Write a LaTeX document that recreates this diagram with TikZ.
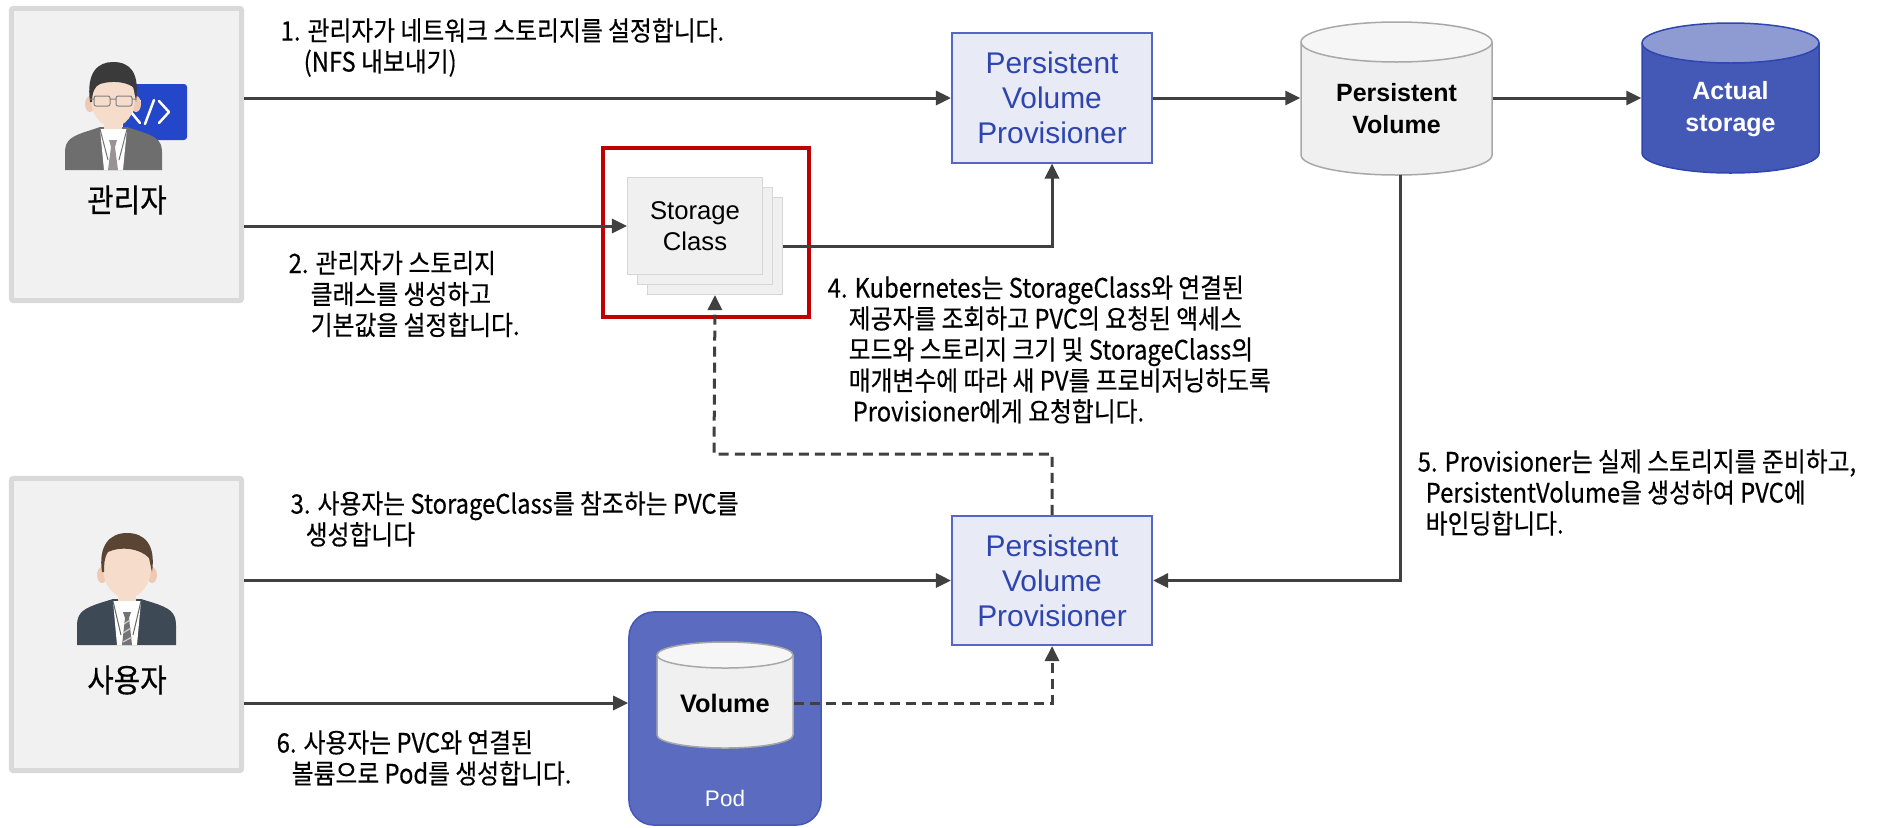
\documentclass[tikz,border=0pt]{standalone}
\usepackage{fontspec}
\setmainfont{Liberation Sans}
\newfontfamily\kr[FakeStretch=0.89,FakeBold=0.4]{Noto Sans CJK KR}
\usetikzlibrary{arrows.meta}

\definecolor{boxfill}{HTML}{F1F1F1}
\definecolor{boxline}{HTML}{D9D9D9}
\definecolor{arrowgray}{HTML}{404040}
\definecolor{pvpfill}{HTML}{E8EAF6}
\definecolor{pvpline}{HTML}{5566C4}
\definecolor{pvptext}{HTML}{2E45B0}
\definecolor{scred}{HTML}{C00000}
\definecolor{pagefill}{HTML}{F0F0F0}
\definecolor{pageline}{HTML}{D6D6D6}
\definecolor{pvbody}{HTML}{F0F0F0}
\definecolor{pvtop}{HTML}{F6F6F6}
\definecolor{pvline}{HTML}{A8A8A8}
\definecolor{asbody}{HTML}{4458B6}
\definecolor{astop}{HTML}{8E9AD2}
\definecolor{asline}{HTML}{2F45B0}
\definecolor{podfill}{HTML}{5A6BC0}
\definecolor{podline}{HTML}{4657B8}
\definecolor{skin}{HTML}{F6DCCB}
\definecolor{earskin}{HTML}{EFC9B3}
\definecolor{hairdark}{HTML}{3A3A3A}
\definecolor{hairbrown}{HTML}{5A4535}
\definecolor{suitgray}{HTML}{6E6E6E}
\definecolor{suitnavy}{HTML}{3D4A56}
\definecolor{tiegray}{HTML}{9A9396}
\definecolor{badgeblue}{HTML}{2446C8}

% cylinder: left, right, top, bottom, rim, body, lid, line
\newcommand{\drum}[8]{%
  \filldraw[fill=#6,draw=#8,line width=0.015cm] (#1,#3+#5) -- (#1,#4-#5)
    arc[start angle=180,end angle=0,x radius={(#2-#1)/2},y radius=#5] -- (#2,#3+#5);
  \filldraw[fill=#7,draw=#8,line width=0.015cm] ({(#1+#2)/2},#3+#5) ellipse [x radius={(#2-#1)/2},y radius=#5];
}

\begin{document}
\begin{tikzpicture}[x=0.01cm,y=-0.01cm,
  flow/.style={draw=arrowgray,line width=0.03cm,-{Triangle[length=0.15cm,width=0.14cm]}},
  dashflow/.style={flow,dash pattern=on 0.1cm off 0.06cm},
  actor/.style={draw=boxline,fill=boxfill,line width=0.05cm,rounded corners=0.02cm,minimum width=2.3cm,minimum height=2.92cm},
  who/.style={font=\kr\fontsize{9.2}{11}\selectfont},
  prov/.style={draw=pvpline,fill=pvpfill,line width=0.02cm,minimum width=2cm,minimum height=1.29cm,
    text=pvptext,align=center,font=\fontsize{8.5}{10}\selectfont},
  page/.style={draw=pageline,fill=pagefill,line width=0.01cm,minimum width=1.35cm,minimum height=0.97cm},
  drumtext/.style={align=center,inner sep=0,font=\bfseries\fontsize{7.1}{9.1}\selectfont},
  note/.style={font=\kr\fontsize{7.6}{8.8}\selectfont,align=left,anchor=west,inner sep=0}]
\useasboundingbox (0,0) rectangle (1883,827);

% actors
\node[actor] (admin) at (126.5,154.5) {};
\node[actor] (user) at (126.5,624.5) {};

% admin figure
\fill[badgeblue,rounded corners=0.03cm] (123,84) rectangle (187,140);
\draw[white,line width=0.025cm,line cap=round,line join=round]
  (140,101) -- (131,112) -- (140,123) (154,100) -- (145,124) (159,101) -- (169,112) -- (159,123);
\fill[suitgray] (65,170) -- (65,152) .. controls (65,140) and (72,136) .. (88,131) -- (100,127)
  -- (127,127) -- (139,131) .. controls (155,136) and (162,140) .. (162,152) -- (162,170) -- cycle;
\fill[skin] (104,112) rectangle (122,133);
\fill[white] (100,129) -- (127,129) -- (123,170) -- (104,170) -- cycle;
\draw[black!55,line width=0.01cm] (100,129) -- (108,160) (127,129) -- (119,160);
\fill[tiegray] (109,140) -- (117,140) -- (115,147) -- (118,170) -- (108,170) -- (111,147) -- cycle;
\fill[earskin] (90,104) ellipse [x radius=5,y radius=8] (136,104) ellipse [x radius=5,y radius=8];
\fill[skin] (113,99) ellipse [x radius=22,y radius=28];
\fill[hairdark] (90,102) .. controls (86,72) and (98,62) .. (113,62) .. controls (130,62) and (140,72) .. (136,102)
  -- (134,88) .. controls (128,82) and (112,80) .. (100,84) .. controls (95,86) and (92,92) .. (92,102) -- cycle;
\draw[black!50,line width=0.01cm,rounded corners=0.02cm] (94,96) rectangle (110,106) (116,96) rectangle (132,106)
  (110,99) -- (116,99) (90,99) -- (94,99) (132,99) -- (136,99);
\node[who] (adminname) at (127,200) {관리자};

% user figure
\fill[suitnavy] (77,645) -- (77,625) .. controls (77,612) and (85,608) .. (100,603) -- (113,599)
  -- (141,599) -- (154,603) .. controls (169,608) and (176,612) .. (176,625) -- (176,645) -- cycle;
\fill[skin] (118,585) rectangle (136,605);
\fill[white] (113,601) -- (141,601) -- (137,645) -- (117,645) -- cycle;
\draw[black!60,line width=0.01cm] (113,601) -- (121,635) (141,601) -- (133,635);
\fill[black!55] (123,612) -- (131,612) -- (129,618) -- (132,645) -- (122,645) -- (125,618) -- cycle;
\draw[black!20,line width=0.012cm] (124,624) -- (130,620) (123,633) -- (131,628) (123,642) -- (132,637);
\fill[earskin] (102,575) ellipse [x radius=5,y radius=8] (152,575) ellipse [x radius=5,y radius=8];
\fill[skin] (127,568) ellipse [x radius=24,y radius=30];
\fill[hairbrown] (102,572) .. controls (98,545) and (110,533) .. (127,533) .. controls (145,533) and (156,545) .. (152,572)
  -- (149,558) .. controls (140,548) and (120,546) .. (108,552) .. controls (105,556) and (104,562) .. (104,572) -- cycle;
\node[who] (username) at (127,680) {사용자};

% provisioners
\node[prov] (pvp1) at (1052,98) {Persistent\\Volume\\Provisioner};
\node[prov] (pvp2) at (1052,580.5) {Persistent\\Volume\\Provisioner};

% storage class stack
\node[draw=scred,line width=0.04cm,minimum width=2.06cm,minimum height=1.69cm] (scframe) at (706,232.5) {};
\node[page] (sc3) at (715,246) {};
\node[page] (sc2) at (705,236) {};
\node[page,align=center,font=\fontsize{7.3}{8.8}\selectfont] (sc) at (695,226) {Storage\\Class};

% volumes
\drum{1301}{1492}{22}{175}{20}{pvbody}{pvtop}{pvline}
\node[drumtext,minimum width=1.91cm] (pv) at (1396.5,109) {Persistent\\Volume};
\drum{1642}{1819}{23}{173}{20}{asbody}{astop}{asline}
\node[drumtext,minimum width=1.77cm,text=white] (store) at (1730.5,109) {Actual\\storage};

% pod
\node[draw=podline,fill=podfill,line width=0.015cm,rounded corners=0.25cm,minimum width=1.92cm,minimum height=2.13cm] (pod) at (725,718.5) {};
\node[text=white,font=\fontsize{6.4}{8}\selectfont] (podname) at (725,798) {Pod};
\drum{657}{793}{642}{748}{13}{pvbody}{pvtop}{pvline}
\node[drumtext,minimum width=1.36cm,font=\bfseries\fontsize{7.2}{9}\selectfont] (vol) at (725,703) {Volume};

% connectors
\coordinate (pvdrop) at (1400,175);
\coordinate (turn) at (714,454);
\draw[flow] (admin.east |- pvp1.west) -- (pvp1.west);
\draw[flow] (admin.east |- sc.west) -- (sc.west);
\draw[flow] (sc3.east) -| (pvp1.south);
\draw[flow] (pvp1.east) -- (pvp1.east -| pv.west);
\draw[flow] (pvp1.east -| pv.east) -- (pvp1.east -| store.west);
\draw[flow] (pvdrop) |- (pvp2.east);
\draw[flow] (user.east |- pvp2.west) -- (pvp2.west);
\draw[flow] (user.east |- vol.west) -- (vol.west -| pod.west);
\draw[dashflow] (vol.east) -| (pvp2.south);
\draw[dashflow] (pvp2.north) |- (turn) -- (sc3.south);

% steps
\node[note] (s1) at (280,47.5) {1. 관리자가 네트워크 스토리지를 설정합니다.\\\hspace*{0.23cm}(NFS 내보내기)};
\node[note] (s2) at (288,294) {2. 관리자가 스토리지\\\hspace*{0.22cm}클래스를 생성하고\\\hspace*{0.22cm}기본값을 설정합니다.};
\node[note] (s3) at (290,519) {3. 사용자는 StorageClass를 참조하는 PVC를\\\hspace*{0.15cm}생성합니다};
\node[note] (s4) at (827,349.5) {4. Kubernetes는 StorageClass와 연결된\\\hspace*{0.21cm}제공자를 조회하고 PVC의 요청된 액세스\\\hspace*{0.21cm}모드와 스토리지 크기 및 StorageClass의\\\hspace*{0.21cm}매개변수에 따라 새 PV를 프로비저닝하도록\\\hspace*{0.25cm}Provisioner에게 요청합니다.};
\node[note] (s5) at (1417,492.5) {5. Provisioner는 실제 스토리지를 준비하고,\\\hspace*{0.08cm}PersistentVolume을 생성하여 PVC에\\\hspace*{0.08cm}바인딩합니다.};
\node[note] (s6) at (276,758) {6. 사용자는 PVC와 연결된\\\hspace*{0.15cm}볼륨으로 Pod를 생성합니다.};
\end{tikzpicture}
\end{document}
